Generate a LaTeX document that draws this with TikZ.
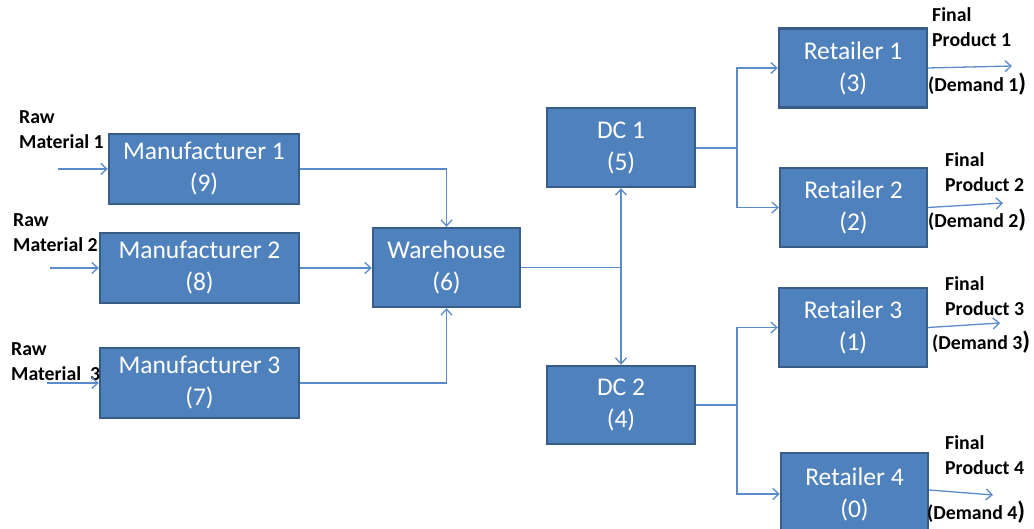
\documentclass[tikz,border=0pt]{standalone}
\usepackage{fontspec}
\setmainfont{Carlito}
\usepackage{xcolor}
\usetikzlibrary{arrows.meta, positioning, calc}

\definecolor{boxblue}{HTML}{4F81BD}
\definecolor{boxedge}{HTML}{385D8A}
\definecolor{linkblue}{HTML}{5B8BC9}

\newcommand{\bigparen}{{\fontsize{25}{25}\selectfont)}}

\begin{document}
\begin{tikzpicture}[
    x=1pt, y=-1pt,
    >={Straight Barb[length=6pt, width=11pt]},
    block/.style={rectangle, draw=boxedge, fill=boxblue, line width=2.4pt, text=white, align=center, inner sep=0pt, minimum width=148pt, minimum height=79pt, font=\fontsize{25.5}{32}\selectfont},
    line/.style={draw=linkblue, line width=1.3pt, ->},
    plainline/.style={draw=linkblue, line width=1.3pt},
    lbl/.style={anchor=west, align=left, inner sep=0pt, font=\bfseries\fontsize{19.8}{25}\selectfont}
]
    \useasboundingbox (0,0) rectangle (1034,529);

    % Manufacturers
    \node [block, minimum width=190pt, minimum height=70pt] (man1) at (204,169) {Manufacturer 1\\(9)};
    \node [block, minimum width=199pt, minimum height=70pt] (man2) at (199.5,268) {Manufacturer 2\\(8)};
    \node [block, minimum width=199pt, minimum height=70pt] (man3) at (199.5,383) {Manufacturer 3\\(7)};

    % Warehouse and DCs
    \node [block, minimum width=147pt] (wh) at (446.5,267.5) {Warehouse\\(6)};
    \node [block] (dc1) at (621,147.5) {DC 1\\(5)};
    \node [block, minimum height=78pt] (dc2) at (621,405) {DC 2\\(4)};

    % Retailers
    \node [block] (ret1) at (853,68) {Retailer 1\\(3)};
    \node [block, minimum width=147pt] (ret2) at (853.5,207.5) {Retailer 2\\(2)};
    \node [block] (ret3) at (853,327.5) {Retailer 3\\(1)};
    \node [block, minimum width=147pt, minimum height=82pt] (ret4) at (854.5,494) {Retailer 4\\(0)};

    % Labels
    \node [lbl] (raw1) at (19,129.5) {Raw\\Material 1};
    \node [lbl] (raw2) at (13,232.5) {Raw\\Material 2};
    \node [lbl] (raw3) at (11,361.5) {Raw\\Material\ \ 3};
    \node [lbl] (fin1) at (932,27) {Final\\Product 1};
    \node [lbl] (fin2) at (945,172) {Final\\Product 2};
    \node [lbl] (fin3) at (945,296.5) {Final\\Product 3};
    \node [lbl] (fin4) at (945,455) {Final\\Product 4};
    \node [lbl] (dem1) at (928,84) {(Demand 1\bigparen};
    \node [lbl] (dem2) at (928,220) {(Demand 2\bigparen};
    \node [lbl] (dem3) at (932,342) {(Demand 3\bigparen};
    \node [lbl] (dem4) at (927,512) {(Demand 4\bigparen};

    % Free ends
    \coordinate (in1) at (58,169);
    \coordinate (in2) at (50,268);
    \coordinate (in3) at (47,383);
    \coordinate (out1) at (1012,66);
    \coordinate (out2) at (1003,203);
    \coordinate (out3) at (1000,323);
    \coordinate (out4) at (993,495);
    \coordinate (split1) at (wh.east -| dc1);
    \coordinate (split2) at (737,148);
    \coordinate (split3) at (737,405);

    % Connections
    \draw [line] (in1) -- (man1);
    \draw [line] (in2) -- (man2);
    \draw [line] (in3) -- (man3);

    \draw [line] (man1) -| (wh);
    \draw [line] (man2.east) -- (man2.east -| wh.west);
    \draw [line] (man3) -| (wh);

    \draw [plainline] (wh.east) -- (split1);
    \draw [line] (split1) -- (dc1);
    \draw [line] (split1) -- (dc2);

    \draw [plainline] (dc1.east |- split2) -- (split2);
    \draw [line] (split2) |- (ret1);
    \draw [line] (split2) |- (ret2);
    \draw [plainline] (dc2.east |- split3) -- (split3);
    \draw [line] (split3) |- (ret3);
    \draw [line] (split3) |- (ret4);

    \draw [line] (ret1.east) -- (out1);
    \draw [line] (ret2.east) -- (out2);
    \draw [line] (ret3.east) -- (out3);
    \draw [line] ([yshift=4pt]ret4.east) -- (out4);

\end{tikzpicture}
\end{document}
